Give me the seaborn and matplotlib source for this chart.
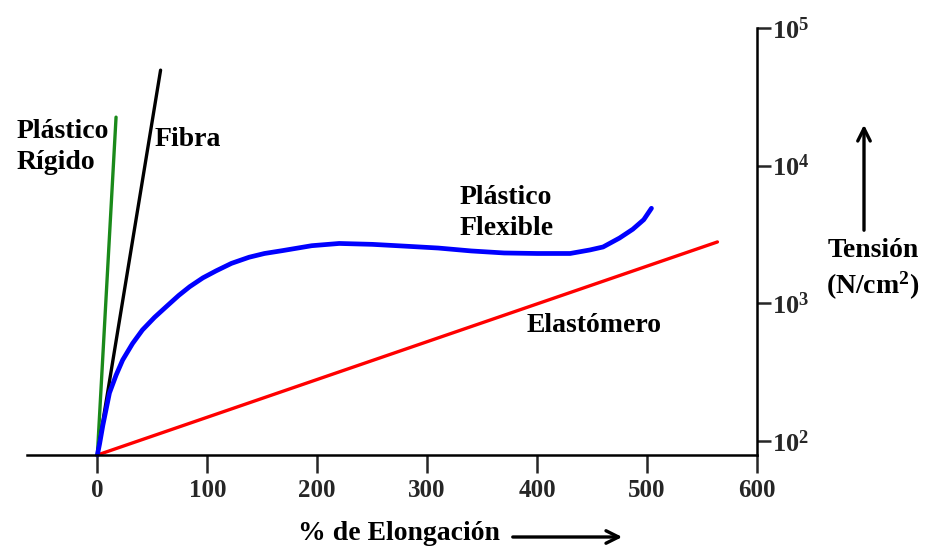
import matplotlib
matplotlib.use("Agg")
import matplotlib.pyplot as plt
import seaborn as sns
import pandas as pd

# ---- data ----
rigido_x = [0, 17]
rigido_y = [79, 22500]

fibra_x = [0, 57.5]
fibra_y = [79, 49400]

elast_x = [0, 564]
elast_y = [79, 2790]

flex_x = [0, 2, 5, 11, 17, 23, 32, 41, 52, 63, 74, 84, 96, 108, 122, 138, 152, 168,
          195, 220, 250, 280, 310, 340, 370, 400, 430, 448, 460, 475, 487, 497, 504]
flex_y = [79, 95, 130, 223, 300, 387, 510, 640, 790, 950, 1140, 1320, 1530, 1720,
          1950, 2160, 2300, 2410, 2620, 2720, 2680, 2600, 2520, 2400, 2320, 2300,
          2300, 2440, 2565, 2980, 3450, 4050, 4900]

x_ticks = [0, 100, 200, 300, 400, 500, 600]
y_ticks = [1e2, 1e3, 1e4, 1e5]
y_tick_labels = ["$10^{2}$", "$10^{3}$", "$10^{4}$", "$10^{5}$"]

sns.set_style("white")
plt.rcParams["font.family"] = ["Liberation Serif", "DejaVu Serif"]
plt.rcParams["font.weight"] = "bold"
plt.rcParams["mathtext.fontset"] = "custom"
plt.rcParams["mathtext.rm"] = "Liberation Serif:bold"
plt.rcParams["mathtext.it"] = "Liberation Serif:bold"
plt.rcParams["mathtext.bf"] = "Liberation Serif:bold"

fig = plt.figure(figsize=(9.25, 5.46), dpi=100)
ax = fig.add_axes([27 / 925, (546 - 455) / 546, (757 - 27) / 925, (455 - 28) / 546])

series = [
    (rigido_x, rigido_y, "#1a8a1a", 2.4),
    (fibra_x, fibra_y, "black", 2.4),
    (elast_x, elast_y, "#ff0000", 2.4),
    (flex_x, flex_y, "#0000ff", 3.4),
]
for xs, ys, c, lw in series:
    df = pd.DataFrame({"x": xs, "y": ys})
    sns.lineplot(data=df, x="x", y="y", ax=ax, color=c, linewidth=lw,
                 sort=False, estimator=None, clip_on=False)

ax.set_yscale("log")
ax.set_xlim(-64, 600)
ax.set_ylim(79, 1e5)

for s in ["top", "left"]:
    ax.spines[s].set_visible(False)
for s in ["bottom", "right"]:
    ax.spines[s].set_visible(True)
    ax.spines[s].set_color("black")
    ax.spines[s].set_linewidth(1.8)

ax.set_xticks(x_ticks)
ax.set_xticklabels([str(v) for v in x_ticks], fontsize=18, fontweight="bold")
ax.tick_params(axis="x", direction="out", length=13, width=1.8, pad=4,
               bottom=True, top=False)

ax.yaxis.tick_right()
ax.set_yticks(y_ticks)
ax.set_yticklabels(y_tick_labels, fontsize=19)
ax.yaxis.set_minor_locator(matplotlib.ticker.NullLocator())
ax.tick_params(axis="y", direction="out", length=10, width=1.8, pad=1,
               right=True, left=False)
ax.set_xlabel("")
ax.set_ylabel("")

tk = dict(fontsize=20, fontweight="bold", color="black", linespacing=1.3)
fig.text(17 / 925, 1 - 147 / 546, "Plástico\nRígido", ha="left", va="center", **tk)
fig.text(155 / 925, 1 - 140 / 546, "Fibra", ha="left", va="center", **tk)
fig.text(460 / 925, 1 - 213 / 546, "Plástico\nFlexible", ha="left", va="center", **tk)
fig.text(527 / 925, 1 - 325 / 546, "Elastómero", ha="left", va="center", **tk)
fig.text(873 / 925, 1 - 270 / 546, "Tensión\n(N/cm$^{2}$)", ha="center", va="center", **tk)
fig.text(399 / 925, 1 - 533 / 546, "% de Elongación", ha="center", va="center", **tk)

fig.add_artist(matplotlib.patches.FancyArrowPatch(
    (864 / 925, 1 - 233 / 546), (864 / 925, 1 - 122 / 546),
    transform=fig.transFigure, arrowstyle="->,head_length=9,head_width=4.5",
    color="black", linewidth=2.4))
fig.add_artist(matplotlib.patches.FancyArrowPatch(
    (510 / 925, 1 - 537 / 546), (625 / 925, 1 - 537 / 546),
    transform=fig.transFigure, arrowstyle="->,head_length=9,head_width=4.5",
    color="black", linewidth=2.4))

fig.savefig("out.png", dpi=100)
